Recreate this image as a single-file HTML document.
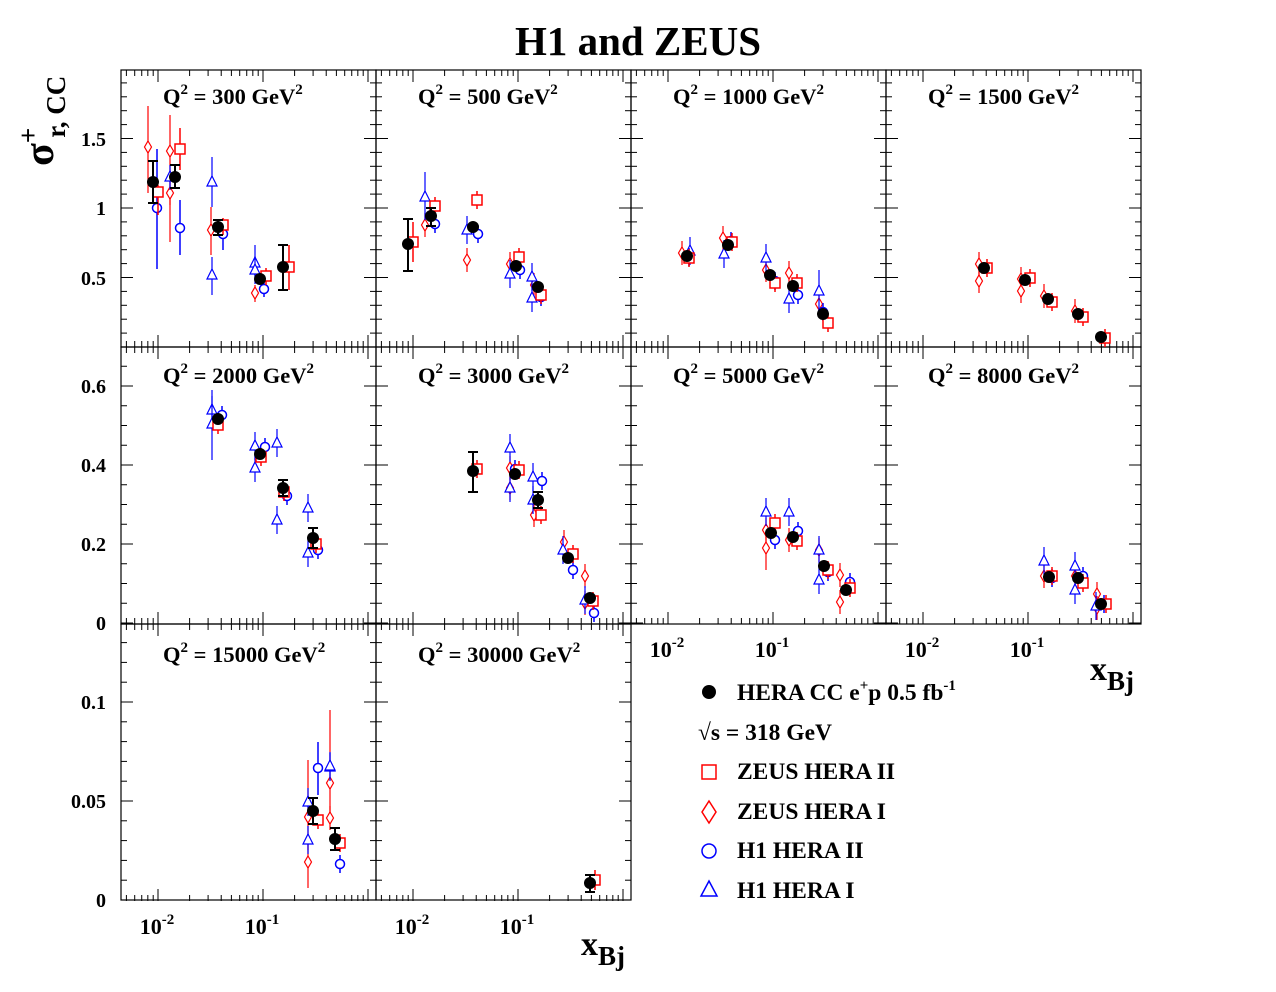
<!DOCTYPE html>
<html><head><meta charset="utf-8"><style>
html,body{margin:0;padding:0;background:#fff;}
svg{display:block;font-family:"Liberation Serif",serif;font-weight:bold;}
</style></head><body>
<svg id="s" width="1276" height="992" xmlns="http://www.w3.org/2000/svg">
<text x="638" y="55" text-anchor="middle" font-size="41">H1 and ZEUS</text>
<g font-size="22.5">
<text x="163" y="104">Q<tspan dy="-10" font-size="15">2</tspan><tspan dy="10"> = 300 GeV</tspan><tspan dy="-10" font-size="15">2</tspan></text>
<text x="418" y="104">Q<tspan dy="-10" font-size="15">2</tspan><tspan dy="10"> = 500 GeV</tspan><tspan dy="-10" font-size="15">2</tspan></text>
<text x="673" y="104">Q<tspan dy="-10" font-size="15">2</tspan><tspan dy="10"> = 1000 GeV</tspan><tspan dy="-10" font-size="15">2</tspan></text>
<text x="928" y="104">Q<tspan dy="-10" font-size="15">2</tspan><tspan dy="10"> = 1500 GeV</tspan><tspan dy="-10" font-size="15">2</tspan></text>
<text x="163" y="383">Q<tspan dy="-10" font-size="15">2</tspan><tspan dy="10"> = 2000 GeV</tspan><tspan dy="-10" font-size="15">2</tspan></text>
<text x="418" y="383">Q<tspan dy="-10" font-size="15">2</tspan><tspan dy="10"> = 3000 GeV</tspan><tspan dy="-10" font-size="15">2</tspan></text>
<text x="673" y="383">Q<tspan dy="-10" font-size="15">2</tspan><tspan dy="10"> = 5000 GeV</tspan><tspan dy="-10" font-size="15">2</tspan></text>
<text x="928" y="383">Q<tspan dy="-10" font-size="15">2</tspan><tspan dy="10"> = 8000 GeV</tspan><tspan dy="-10" font-size="15">2</tspan></text>
<text x="163" y="662">Q<tspan dy="-10" font-size="15">2</tspan><tspan dy="10"> = 15000 GeV</tspan><tspan dy="-10" font-size="15">2</tspan></text>
<text x="418" y="662">Q<tspan dy="-10" font-size="15">2</tspan><tspan dy="10"> = 30000 GeV</tspan><tspan dy="-10" font-size="15">2</tspan></text>
</g>
<g font-size="20" text-anchor="end">
<text x="106" y="146">1.5</text><text x="106" y="215">1</text><text x="106" y="285">0.5</text>
<text x="106" y="393">0.6</text><text x="106" y="472">0.4</text><text x="106" y="551">0.2</text><text x="106" y="630">0</text>
<text x="106" y="709">0.1</text><text x="106" y="808">0.05</text><text x="106" y="907">0</text>
</g>
<g font-size="22" text-anchor="middle">
<text x="157" y="934">10<tspan dy="-10" font-size="15">-2</tspan></text>
<text x="262" y="934">10<tspan dy="-10" font-size="15">-1</tspan></text>
<text x="412" y="934">10<tspan dy="-10" font-size="15">-2</tspan></text>
<text x="517" y="934">10<tspan dy="-10" font-size="15">-1</tspan></text>
<text x="667" y="657">10<tspan dy="-10" font-size="15">-2</tspan></text>
<text x="772" y="657">10<tspan dy="-10" font-size="15">-1</tspan></text>
<text x="922" y="657">10<tspan dy="-10" font-size="15">-2</tspan></text>
<text x="1027" y="657">10<tspan dy="-10" font-size="15">-1</tspan></text>
</g>
<text x="581" y="955" font-size="34">x<tspan dy="10" font-size="27">Bj</tspan></text>
<text x="1090" y="680" font-size="34">x<tspan dy="10" font-size="27">Bj</tspan></text>
<text transform="translate(53,166) rotate(-90)" font-size="42">σ<tspan dy="-16" font-size="27">+</tspan><tspan dy="28" dx="-10" font-size="27">r, CC</tspan></text>
<g font-size="23.5">
<text x="737" y="700">HERA CC e<tspan dy="-10" font-size="15">+</tspan><tspan dy="10">p 0.5 fb</tspan><tspan dy="-10" font-size="15">-1</tspan></text>
<text x="698" y="740">√s = 318 GeV</text>
<text x="737" y="779">ZEUS HERA II</text>
<text x="737" y="819">ZEUS HERA I</text>
<text x="737" y="858">H1 HERA II</text>
<text x="737" y="898">H1 HERA I</text>
</g>
<g id="g"></g>
</svg>
<script>
var g=document.getElementById('g'),h='';
function L(x1,y1,x2,y2,c,w){h+='<line x1="'+x1+'" y1="'+y1+'" x2="'+x2+'" y2="'+y2+'" stroke="'+(c||'#000')+'" stroke-width="'+(w||1)+'"/>';}
var panels=[[121,70,0],[376,70,0],[631,70,0],[886,70,0],[121,347,1],[376,347,1],[631,347,1],[886,347,1],[121,624,2],[376,624,2]];
function yticks(x0,y0,row,W){
 var s,b;
 if(row==0){b=347;s=13.9;}else if(row==1){b=623;s=19.75;}else{b=900;s=19.8;}
 for(var i=0;;i++){var y=b-i*s;if(y<y0+1)break;var big=(row==0?i%5==0:(row==1?i%4==0:i%5==0));var l=big?12:6;L(x0,y,x0+l,y);L(x0+W,y,x0+W-l,y);}
}
function xticks(x0,y0,H){
 for(var d=-3;d<=0;d++)for(var m=1;m<10;m++){var x=x0+37+(d+2)*105+Math.log10(m)*105;if(x<=x0+1||x>=x0+254)continue;var l=m==1?12:6;L(x,y0+H,x,y0+H-l);L(x,y0,x,y0+l);}
}
panels.forEach(function(p){xticks(p[0],p[1],277);yticks(p[0],p[1],p[2],255);h+='<rect x="'+p[0]+'" y="'+p[1]+'" width="255" height="'+(p[2]==2?276:277)+'" fill="none" stroke="#000" stroke-width="1.2"/>';});
function bk(x,y,a,b){if(a){L(x,a,x,b,'#000',2);L(x-5,a,x+5,a,'#000',2);L(x-5,b,x+5,b,'#000',2);}h+='<circle cx="'+x+'" cy="'+y+'" r="6" fill="#000"/>';}
function sq(x,y,a,b){L(x,a||y-9,x,b||y+9,'red',1.5);h+='<rect x="'+(x-5)+'" y="'+(y-5)+'" width="10" height="10" fill="#fff" stroke="red" stroke-width="1.5"/>';}
function di(x,y,a,b){L(x,a||y-12,x,b||y+12,'red',1.2);h+='<polygon points="'+x+','+(y-6)+' '+(x+3.5)+','+y+' '+x+','+(y+6)+' '+(x-3.5)+','+y+'" fill="#fff" stroke="red" stroke-width="1.2"/>';}
function ci(x,y,a,b){L(x,a||y-9,x,b||y+9,'blue',1.5);h+='<circle cx="'+x+'" cy="'+y+'" r="4.5" fill="#fff" stroke="blue" stroke-width="1.5"/>';}
function tr(x,y,a,b){L(x,a||y-14,x,b||y+14,'blue',1.2);h+='<polygon points="'+x+','+(y-6)+' '+(x+5)+','+(y+4)+' '+(x-5)+','+(y+4)+'" fill="#fff" stroke="blue" stroke-width="1.2"/>';}
di(148,147,106,193);di(170,151,115,242);di(170,193);di(211,230,207,255);di(255,293,285,302);
tr(170,177,165,190);tr(212,182,157,207);tr(212,275,257,295);tr(255,263,245,280);tr(255,270);
ci(157,208,149,269);ci(180,228,200,255);ci(223,234,220,250);ci(264,289,283,297);
sq(158,192,185,215);sq(180,149,128,170);sq(223,225,218,235);sq(266,276,268,285);sq(289,267,245,290);
bk(153,182,161,203);bk(175,177,165,188);bk(218,227,220,235);bk(260,279);bk(283,267,245,290);
di(425,225);di(467,260);di(510,264);di(534,285);
tr(425,197,172,220);tr(467,230);tr(510,274);tr(532,277);tr(532,298);
ci(435,224);ci(478,234);ci(520,270);ci(541,297);
sq(413,242,222,262);sq(435,206);sq(477,200);sq(519,257);sq(541,295);
bk(408,244,219,271);bk(431,216,208,226);bk(473,227);bk(516,266);bk(538,287);
di(682,253);di(723,238);di(766,270);di(789,273);di(819,304);
tr(690,251);tr(724,254);tr(766,258);tr(789,299);tr(819,291,270,310);
ci(689,257);ci(731,241);ci(775,281);ci(798,295);ci(823,312);
sq(689,258);sq(732,242);sq(775,283);sq(797,283);sq(828,323);
bk(687,256);bk(728,245);bk(770,275);bk(793,286);bk(823,314);
di(979,264);di(979,281);di(1021,279);di(1021,291);di(1044,296);di(1075,311);
sq(987,268);sq(1030,278);sq(1052,302);sq(1083,317);sq(1105,338);
bk(984,268);bk(1025,280);bk(1048,299);bk(1078,314);bk(1101,337);
tr(212,410);tr(212,424,390,460);tr(255,446);tr(255,468);tr(277,443);tr(277,520);tr(308,508);tr(308,553);
ci(222,415);ci(265,447);ci(287,496);ci(318,550);
sq(218,425);sq(261,457);sq(284,492);sq(316,544);
bk(218,419);bk(260,454);bk(283,488,480,496);bk(313,538,528,548);
di(510,468);di(510,488);di(534,515);di(564,542);di(585,576);di(585,603);
tr(510,448);tr(510,488);tr(533,500);tr(533,477);tr(563,550);tr(585,600);
ci(515,469);ci(542,481);ci(573,570);ci(594,613);
sq(477,469);sq(519,470);sq(541,515);sq(573,554);sq(593,601);
bk(473,471,452,492);bk(515,474);bk(538,500,492,508);bk(568,558);bk(590,598);
di(766,548,528,570);di(766,530);di(789,540);di(819,550);di(840,602);di(840,575);
tr(766,512);tr(789,512);tr(819,580);tr(819,550);
ci(775,540);ci(798,531);ci(828,572);ci(850,582);
sq(775,523);sq(797,541);sq(828,570);sq(850,588);
bk(771,533);bk(793,537);bk(824,566);bk(846,590);
di(1044,576);di(1075,576);di(1097,594);di(1097,608);
tr(1044,561);tr(1075,566);tr(1075,590);tr(1096,606);
ci(1052,578);ci(1083,576);ci(1104,604);
sq(1052,576);sq(1083,583);sq(1106,604);
bk(1049,577);bk(1078,578);bk(1101,604);
di(308,817,760,850);di(308,862,835,888);di(330,783,710,820);di(330,818);
tr(308,802);tr(308,840);tr(330,767);tr(330,766);
ci(318,768,742,795);ci(340,864);
sq(318,820);sq(340,843);
bk(313,811,798,824);bk(335,839,828,850);
sq(595,880,870,890);bk(590,883,875,892);
h+='<circle cx="709" cy="692" r="7" fill="#000"/>';
h+='<rect x="702" y="765" width="14" height="14" fill="none" stroke="red" stroke-width="1.5"/>';
h+='<polygon points="709,801 716,812 709,823 702,812" fill="none" stroke="red" stroke-width="1.5"/>';
h+='<circle cx="709" cy="851" r="7" fill="none" stroke="blue" stroke-width="1.5"/>';
h+='<polygon points="709,881 717,896 701,896" fill="none" stroke="blue" stroke-width="1.5"/>';
g.innerHTML=h;
</script>
</body></html>
